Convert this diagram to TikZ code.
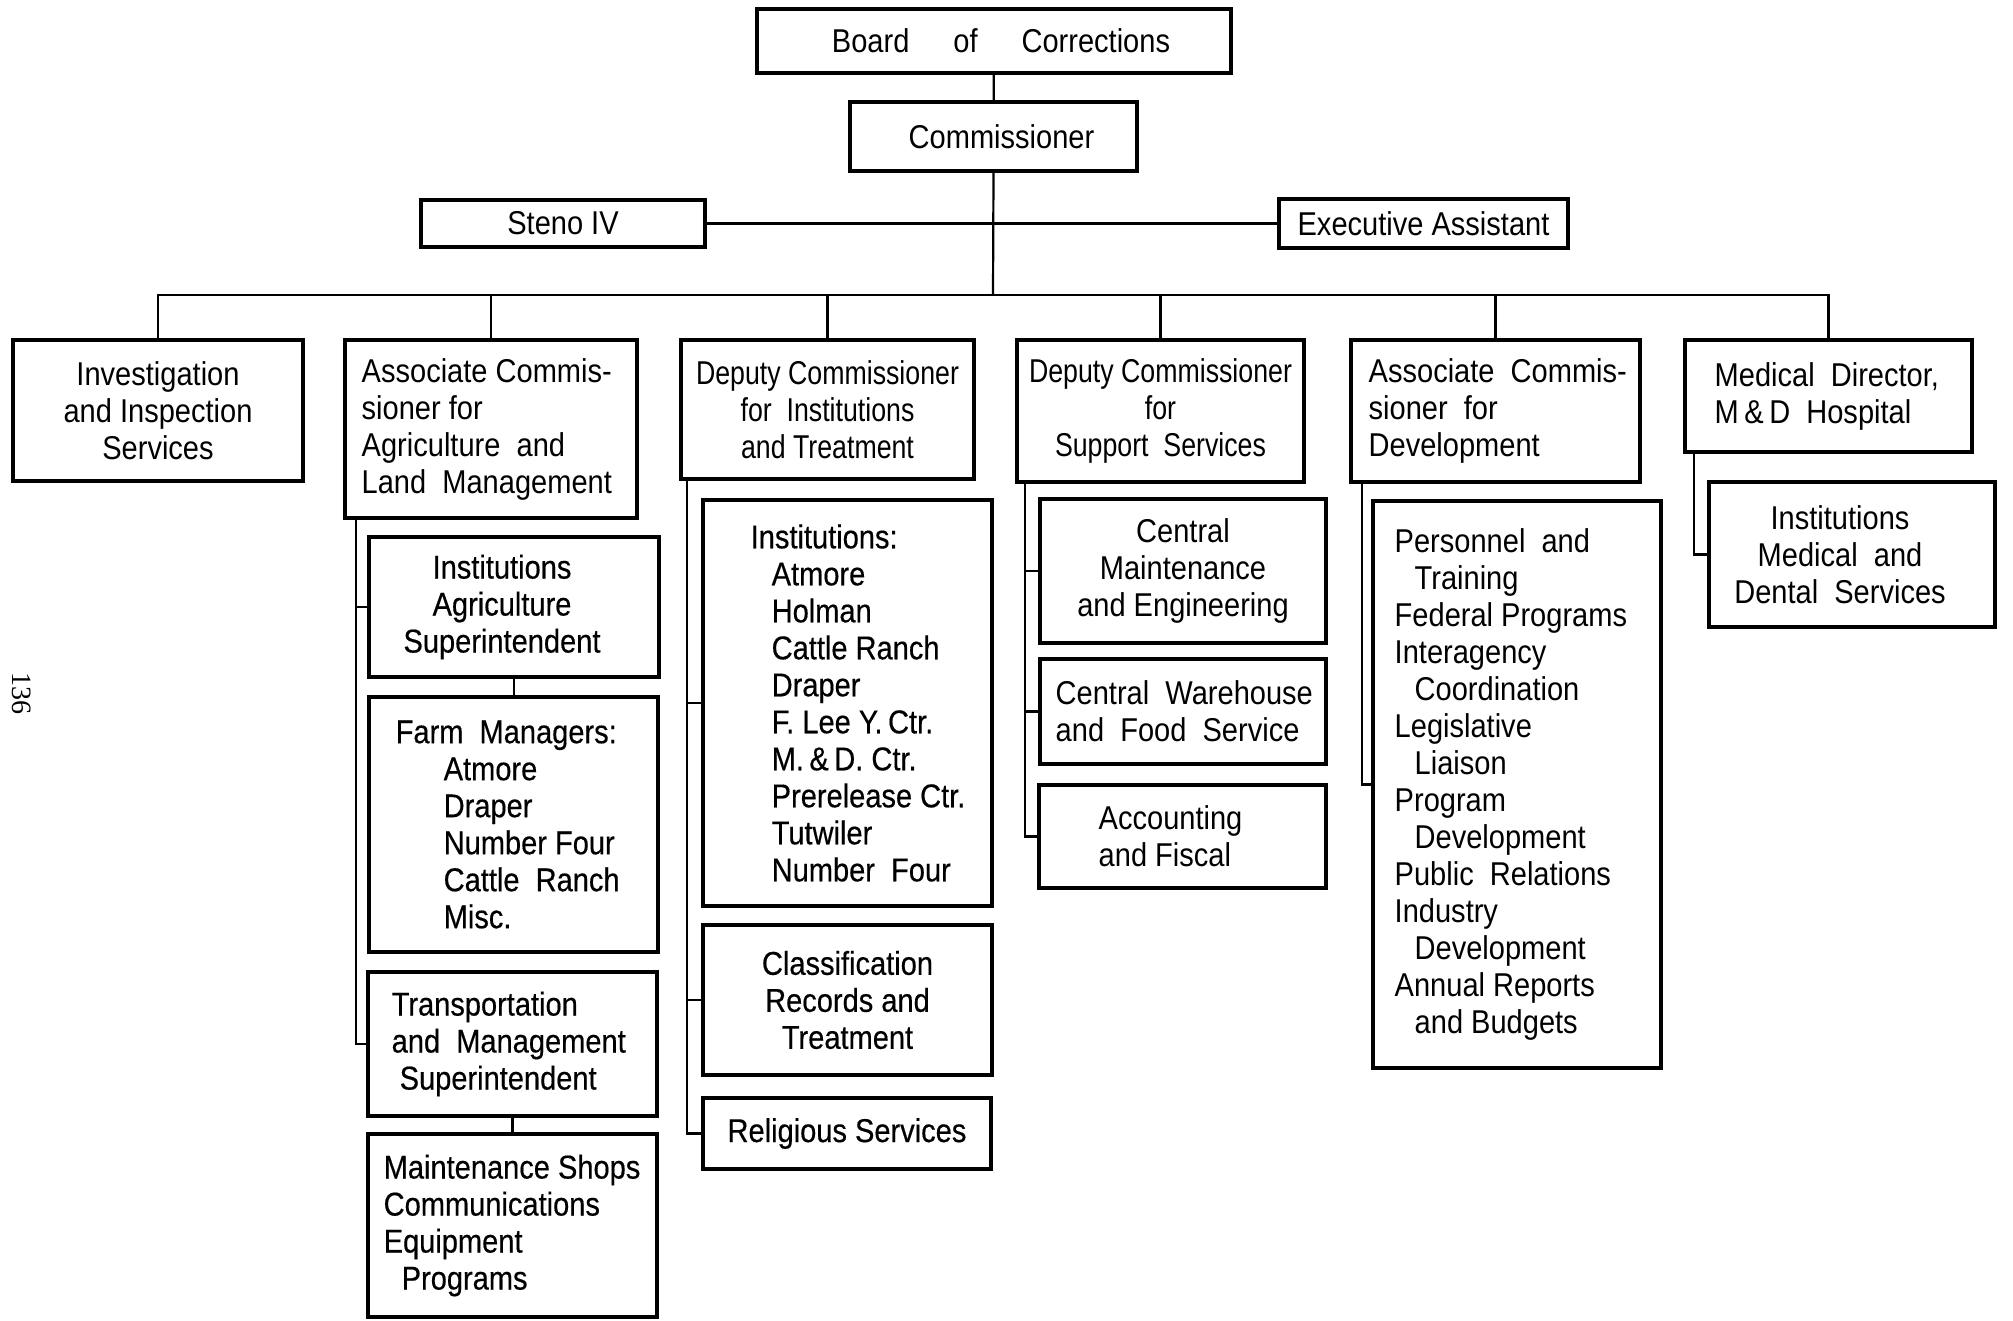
\documentclass[tikz,border=0pt]{standalone}
\usepackage{fontspec}
\usetikzlibrary{fit}
\newfontfamily\hifont[FakeStretch=0.88]{Liberation Sans}
\newfontfamily\hinarrow[FakeStretch=0.81]{Liberation Sans}
\newfontfamily\lofont[FakeStretch=0.88, FakeBold=0.4]{Liberation Sans}
\newfontfamily\pagefont{Liberation Serif}
\tikzset{
  box/.style={draw, line width=1.7pt, inner sep=0pt},
  link/.style={line width=1.1pt},
  hitxt/.style={inner sep=0pt, font=\hifont\fontsize{16.5}{18.5}\selectfont, align=center},
  narrowtxt/.style={inner sep=0pt, font=\hinarrow\fontsize{16.5}{18.5}\selectfont, align=center},
  lotxt/.style={inner sep=0pt, font=\lofont\fontsize{16.5}{18.5}\selectfont, align=center},
  lefttxt/.style={align=left, anchor=west},
}
\begin{document}
\begin{tikzpicture}[x=0.5pt, y=-0.5pt]
\fill[white] (0,0) rectangle (2013,1321);
\useasboundingbox (0,0) rectangle (2013,1321);

% page number
\node[font=\pagefont\fontsize{14}{16}\selectfont, rotate=-90, inner sep=0pt] (pg) at (22,693) {136};

% top of the chart
\node[box, fit={(757,9) (1231,73)}] (board) {};
\node[box, fit={(850,102) (1137,171)}] (comm) {};
\node[box, fit={(421,200) (705,247)}] (steno) {};
\node[box, fit={(1279,199) (1568,248)}] (exec) {};

% second level
\node[box, fit={(13,340) (303,481)}] (inv) {};
\node[box, fit={(345,340) (637,518)}] (agri) {};
\node[box, fit={(681,340) (974,479)}] (dinst) {};
\node[box, fit={(1017,340) (1304,482)}] (dsup) {};
\node[box, fit={(1351,340) (1640,482)}] (adev) {};
\node[box, fit={(1685,340) (1972,452)}] (med) {};

% agriculture units
\node[box, fit={(369,537) (659,677)}] (iagr) {};
\node[box, fit={(369,697) (658,952)}] (farm) {};
\node[box, fit={(368,972) (657,1116)}] (trans) {};
\node[box, fit={(368,1134) (657,1317)}] (mshop) {};

% institutions units
\node[box, fit={(703,500) (992,906)}] (ilist) {};
\node[box, fit={(703,925) (992,1075)}] (class) {};
\node[box, fit={(703,1098) (991,1169)}] (relig) {};

% support units
\node[box, fit={(1040,499) (1326,643)}] (cmaint) {};
\node[box, fit={(1040,659) (1326,764)}] (cware) {};
\node[box, fit={(1039,785) (1326,888)}] (acct) {};

% development and medical units
\node[box, fit={(1373,501) (1661,1068)}] (devl) {};
\node[box, fit={(1709,482) (1995,627)}] (imd) {};

% connectors
\coordinate (bus) at (993,295);
\draw[link] (board) -- (comm);
\draw[link] (comm.south) -- (bus);
\draw[link] (steno.east) -- (steno.east -| comm.south);
\draw[link] (exec.west) -- (exec.west -| comm.south);
\draw[link] (inv.north) |- (bus) -| (med.north);
\foreach \n in {agri,dinst,dsup,adev}
  \draw[link] (\n.north) -- (\n.north |- bus);

\coordinate (agsp) at ([shift={(13,0)}]agri.south west);
\draw[link] (agsp) |- (trans.west);
\draw[link] (iagr.west) -- (iagr.west -| agsp);
\draw[link] (iagr.south) -- (iagr.south |- farm.north);
\draw[link] (trans.south) -- (trans.south |- mshop.north);

\coordinate (disp) at ([shift={(8,0)}]dinst.south west);
\draw[link] (disp) |- (relig.west);
\draw[link] (ilist.west) -- (ilist.west -| disp);
\draw[link] (class.west) -- (class.west -| disp);

\coordinate (dssp) at ([shift={(10,0)}]dsup.south west);
\draw[link] (dssp) |- (acct.west);
\draw[link] (cmaint.west) -- (cmaint.west -| dssp);
\draw[link] (cware.west) -- (cware.west -| dssp);

\coordinate (adsp) at ([shift={(13,0)}]adev.south west);
\draw[link] (adsp) |- (devl.west);

\coordinate (mdsp) at ([shift={(11,0)}]med.south west);
\draw[link] (mdsp) |- (imd.west);

% labels
\node[hitxt] (t-board) at ([shift={(7,0)}]board.center) {Board\hspace{22pt}of\hspace{22pt}Corrections};
\node[hitxt] (t-comm) at ([shift={(8,0)}]comm.center) {Commissioner};
\node[hitxt] (t-steno) at (steno) {Steno IV};
\node[hitxt] (t-exec) at (exec) {Executive Assistant};
\node[hitxt] (t-inv) at (inv) {Investigation\\and Inspection\\Services};
\node[hitxt, lefttxt] (t-agri) at ([shift={(18,0)}]agri.west) {Associate Commis-\\sioner for\\Agriculture\ \ and\\Land\ \ Management};
\node[narrowtxt] (t-dinst) at (dinst) {Deputy Commissioner\\for\ \ Institutions\\and Treatment};
\node[narrowtxt] (t-dsup) at (dsup) {Deputy Commissioner\\for\\Support\ \ Services};
\node[hitxt, lefttxt] (t-adev) at ([shift={(19,0)}]adev.west) {Associate\ \ Commis-\\sioner\ \ for\\Development};
\node[hitxt, lefttxt] (t-med) at ([shift={(31,0)}]med.west) {Medical\ \ Director,\\M\,\&\,D\ \ Hospital};

\node[lotxt] (t-iagr) at ([shift={(-12,0)}]iagr.center) {Institutions\\Agriculture\\Superintendent};
\node[lotxt, lefttxt] (t-farm) at ([shift={(28,0)}]farm.west) {Farm\ \ Managers:\\\hspace*{24pt}Atmore\\\hspace*{24pt}Draper\\\hspace*{24pt}Number Four\\\hspace*{24pt}Cattle\ \ Ranch\\\hspace*{24pt}Misc.};
\node[lotxt, lefttxt] (t-trans) at ([shift={(25,0)}]trans.west) {Transportation\\and\ \ Management\\\hspace*{4pt}Superintendent};
\node[lotxt, lefttxt] (t-mshop) at ([shift={(17,0)}]mshop.west) {Maintenance Shops\\Communications\\Equipment\\\hspace*{9pt}Programs};

\node[lotxt, lefttxt] (t-ilist) at ([shift={(49,0)}]ilist.west) {Institutions:\\\hspace*{10.5pt}Atmore\\\hspace*{10.5pt}Holman\\\hspace*{10.5pt}Cattle Ranch\\\hspace*{10.5pt}Draper\\\hspace*{10.5pt}F. Lee Y.\,Ctr.\\\hspace*{10.5pt}M.\,\&\,D. Ctr.\\\hspace*{10.5pt}Prerelease Ctr.\\\hspace*{10.5pt}Tutwiler\\\hspace*{10.5pt}Number\ \ Four};
\node[lotxt] (t-class) at (class) {Classification\\Records and\\Treatment};
\node[lotxt] (t-relig) at (relig) {Religious Services};

\node[hitxt] (t-cmaint) at (cmaint) {Central\\Maintenance\\and Engineering};
\node[hitxt, lefttxt] (t-cware) at ([shift={(17,0)}]cware.west) {Central\ \ Warehouse\\and\ \ Food\ \ Service};
\node[hitxt, lefttxt] (t-acct) at ([shift={(61,0)}]acct.west) {Accounting\\and Fiscal};

\node[hitxt, lefttxt] (t-devl) at ([shift={(23,0)}]devl.west) {Personnel\ \ and\\\hspace*{10pt}Training\\Federal Programs\\Interagency\\\hspace*{10pt}Coordination\\Legislative\\\hspace*{10pt}Liaison\\Program\\\hspace*{10pt}Development\\Public\ \ Relations\\Industry\\\hspace*{10pt}Development\\Annual Reports\\\hspace*{10pt}and Budgets};
\node[hitxt] (t-imd) at ([shift={(-12,0)}]imd.center) {Institutions\\Medical\ \ and\\Dental\ \ Services};
\end{tikzpicture}
\end{document}
